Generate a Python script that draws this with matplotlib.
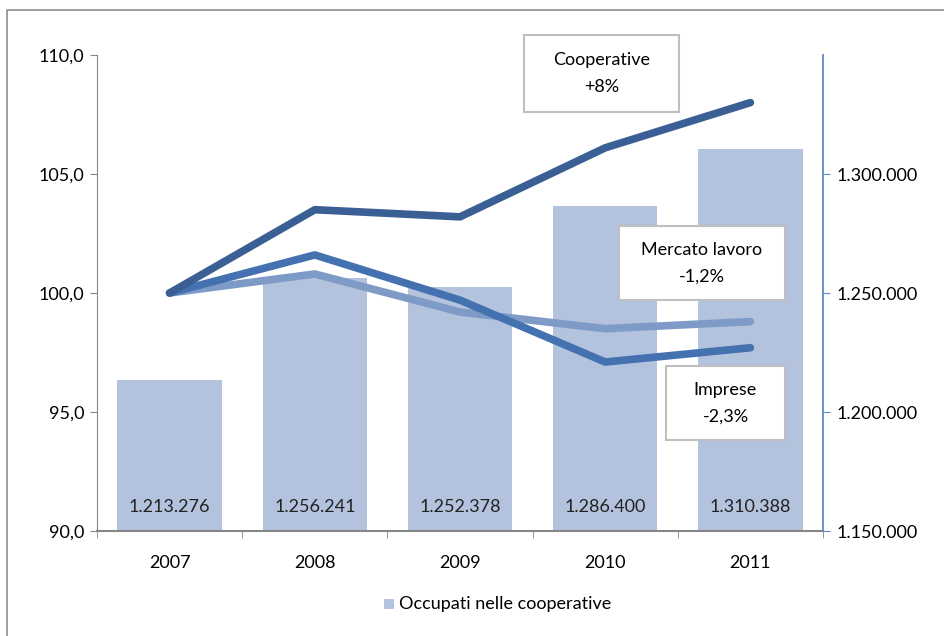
import matplotlib
matplotlib.use("Agg")
import matplotlib.pyplot as plt
from matplotlib.lines import Line2D
from matplotlib.patches import Rectangle
import numpy as np

plt.rcParams['font.family'] = ['Lato', 'DejaVu Sans']

# dati
anni = ['2007', '2008', '2009', '2010', '2011']
occupati = [1213276, 1256241, 1252378, 1286400, 1310388]
occupati_label = ['1.213.276', '1.256.241', '1.252.378', '1.286.400', '1.310.388']
cooperative = [100.0, 103.5, 103.2, 106.1, 108.0]
imprese = [100.0, 101.6, 99.7, 97.1, 97.7]
mercato = [100.0, 100.8, 99.2, 98.5, 98.8]

left_ticks = [90, 95, 100, 105, 110]
left_labels = ['90,0', '95,0', '100,0', '105,0', '110,0']
right_ticks = [1150000, 1200000, 1250000, 1300000]
right_labels = ['1.150.000', '1.200.000', '1.250.000', '1.300.000']

c_bar = '#B3C2DD'
c_coop = '#3A5F94'
c_imp = '#4472B0'
c_merc = '#7E9BC8'
c_axis_r = '#5B8BC9'
c_axis_l = '#868686'
fs = 13

fig = plt.figure(figsize=(9.45, 6.36), dpi=100)
ax = fig.add_axes([97/945, 1-531/636, (823-97)/945, (531-55)/636])
ax2 = ax.twinx()

x = np.arange(len(anni))

# barre sull'asse destro
ax2.bar(x, occupati, width=0.72, color=c_bar, zorder=1)
for xi, lab in zip(x, occupati_label):
    ax2.text(xi, 1150000 + 10000, lab, ha='center', va='center', fontsize=fs, color='#222222')
ax2.set_ylim(1150000, 1350000)
ax2.set_yticks(right_ticks)
ax2.set_yticklabels(right_labels, fontsize=fs)

# linee sull'asse sinistro (disegnate sopra le barre)
ax.set_zorder(ax2.get_zorder() + 1)
ax.patch.set_visible(False)
ax.plot(x, mercato, color=c_merc, lw=5.5, solid_capstyle='round', solid_joinstyle='round')
ax.plot(x, imprese, color=c_imp, lw=5.5, solid_capstyle='round', solid_joinstyle='round')
ax.plot(x, cooperative, color=c_coop, lw=5.5, solid_capstyle='round', solid_joinstyle='round')
ax.set_ylim(90, 110)
ax.set_yticks(left_ticks)
ax.set_yticklabels(left_labels, fontsize=fs)
ax.set_xlim(-0.5, 4.5)
ax.set_xticks(x)
ax.set_xticklabels(anni, fontsize=fs)
ax.set_xticks(np.arange(-0.5, 5, 1), minor=True)
ax.tick_params(axis='x', which='major', length=0, pad=17)
ax.tick_params(axis='x', which='minor', length=5, color=c_axis_l)
ax.tick_params(axis='y', length=5, color=c_axis_l, pad=4)

for a in (ax, ax2):
    a.spines['top'].set_visible(False)
ax.spines['right'].set_visible(False)
ax2.spines['left'].set_visible(False)
ax2.spines['bottom'].set_visible(False)
ax.spines['left'].set_color(c_axis_l)
ax.spines['bottom'].set_color(c_axis_l)
ax.spines['bottom'].set_linewidth(1.5)
ax2.spines['right'].set_color(c_axis_r)
ax2.spines['right'].set_linewidth(1.3)
ax2.tick_params(axis='y', length=5, color=c_axis_r, pad=5)

# riquadri di testo
def box(x0, y0, x1, y1, testo):
    fig.patches.append(Rectangle((x0/945, 1-y1/636), (x1-x0)/945, (y1-y0)/636,
                                 transform=fig.transFigure, facecolor='white',
                                 edgecolor='#BFBFBF', lw=1.5, zorder=5))
    fig.text((x0+x1)/2/945, 1-(y0+y1)/2/636, testo, ha='center', va='center',
             fontsize=fs, linespacing=1.8, zorder=6)

box(524, 35, 679, 112, 'Cooperative\n+8%')
box(619, 226, 785, 300, 'Mercato lavoro\n-1,2%')
box(666, 366, 785, 440, 'Imprese\n-2,3%')

# legenda
fig.patches.append(Rectangle((384/945, 1-609/636), 10/945, 10/636, transform=fig.transFigure,
                             facecolor=c_bar, edgecolor='none'))
fig.text(399/945, 1-604/636, 'Occupati nelle cooperative', ha='left', va='center', fontsize=fs)

# cornice
fig.lines.append(Line2D([7/945, 7/945, 1], [0, 1-10/636, 1-10/636], transform=fig.transFigure,
                        color='#8C8C8C', lw=1.2))

fig.savefig('out.png', dpi=100)
